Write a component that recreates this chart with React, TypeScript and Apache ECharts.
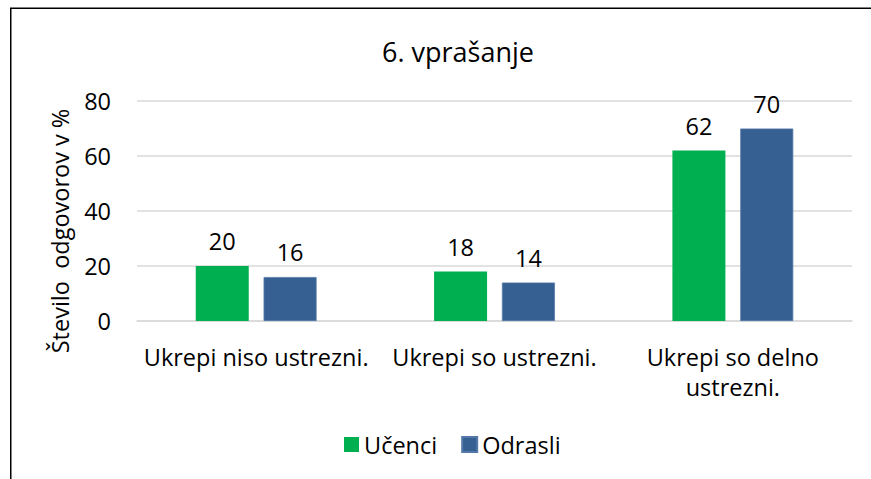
import React, { useEffect, useRef } from "react";
import * as echarts from "echarts";

const titleText = "6. vprašanje";
const yAxisTitle = "Število  odgovorov v %";
const categories = ["Ukrepi niso ustrezni.", "Ukrepi so ustrezni.", "Ukrepi so delno\nustrezni."];
const seriesNames = ["Učenci", "Odrasli"];
const ucenci = [20, 18, 62];
const odrasli = [16, 14, 70];
const yMin = 0;
const yMax = 80;
const yInterval = 20;

const FONT = "'Open Sans', sans-serif";
const FS = 23.5;

export default function App() {
  const ref = useRef<HTMLDivElement>(null);
  useEffect(() => {
    if (!ref.current) return;
    const chart = echarts.init(ref.current, undefined, { renderer: "svg" });
    chart.setOption({
      animation: false,
      backgroundColor: "#ffffff",
      textStyle: { fontFamily: FONT },
      graphic: [
        {
          type: "rect",
          shape: { x: 10.75, y: 8.25, width: 1200, height: 1200 },
          style: { fill: "none", stroke: "#000", lineWidth: 1.5 },
          z: 0,
        },
        {
          type: "text",
          x: 458,
          y: 51,
          style: {
            text: titleText,
            font: `27px ${FONT}`,
            fill: "#000",
            textAlign: "center",
            textVerticalAlign: "middle",
          },
        },
        {
          type: "text",
          x: 60,
          y: 231,
          rotation: Math.PI / 2,
          style: {
            text: yAxisTitle,
            font: `${FS}px ${FONT}`,
            fill: "#000",
            textAlign: "center",
            textVerticalAlign: "middle",
          },
        },
      ],
      grid: { left: 137, right: 19, top: 101, bottom: 158, containLabel: false },
      legend: {
        data: seriesNames,
        left: 344,
        top: 430.5,
        padding: 0,
        icon: "rect",
        itemWidth: 15,
        itemHeight: 15,
        itemGap: 24,
        textStyle: { fontFamily: FONT, fontSize: FS, color: "#000", lineHeight: 28 },
      },
      xAxis: {
        type: "category",
        data: categories,
        axisLine: { show: true, lineStyle: { color: "#d9d9d9", width: 1.5 } },
        axisTick: { show: false },
        axisLabel: {
          interval: 0,
          margin: 21,
          color: "#000",
          fontFamily: FONT,
          fontSize: FS,
          lineHeight: 30,
        },
      },
      yAxis: {
        type: "value",
        min: yMin,
        max: yMax,
        interval: yInterval,
        axisLine: { show: false },
        axisTick: { show: false },
        splitLine: { lineStyle: { color: "#d9d9d9", width: 1.5 } },
        axisLabel: { margin: 26, color: "#000", fontFamily: FONT, fontSize: FS },
      },
      series: [
        {
          name: seriesNames[0],
          type: "bar",
          data: ucenci,
          barWidth: 53,
          barGap: "28%",
          itemStyle: { color: "#00B050" },
          label: {
            show: true,
            position: "top",
            distance: 11,
            color: "#000",
            fontFamily: FONT,
            fontSize: FS,
            lineHeight: 28,
          },
        },
        {
          name: seriesNames[1],
          type: "bar",
          data: odrasli,
          barWidth: 53,
          barGap: "28%",
          itemStyle: { color: "#376092", borderColor: "#5479a8", borderWidth: 0.75 },
          label: {
            show: true,
            position: "top",
            distance: 11,
            color: "#000",
            fontFamily: FONT,
            fontSize: FS,
            lineHeight: 28,
          },
        },
      ],
    });
    return () => chart.dispose();
  }, []);
  return (
    <div
      ref={ref}
      style={{ position: "fixed", left: 0, top: 0, width: 871, height: 479 }}
    />
  );
}
